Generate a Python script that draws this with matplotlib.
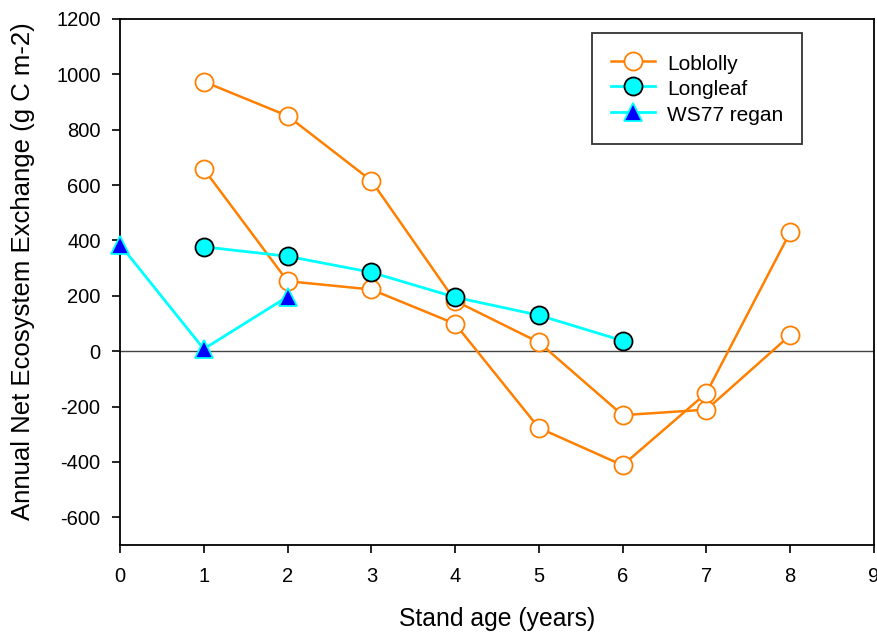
import matplotlib
matplotlib.use("Agg")
import matplotlib.pyplot as plt

plt.rcParams["font.family"] = ["Liberation Sans", "DejaVu Sans"]
plt.rcParams["axes.unicode_minus"] = False

# stand age (years)
age_lob = [1, 2, 3, 4, 5, 6, 7, 8]
lob_a = [974, 850, 616, 182, 32, -231, -211, 58]
lob_b = [658, 253, 223, 99, -277, -412, -151, 430]

age_long = [1, 2, 3, 4, 5, 6]
longleaf = [377, 343, 285, 195, 130, 38]

age_ws77 = [0, 1, 2]
ws77 = [385, 8, 197]

ORANGE = "#ff8000"
CYAN = "#00ffff"

fig = plt.figure(figsize=(8.78, 6.33), dpi=100)
ax = fig.add_axes([0.1367, 0.139, 0.8587, 0.831])

ax.axhline(0, color="#444444", linewidth=1.0, zorder=1)

ax.plot(age_lob, lob_a, "-o", color=ORANGE, lw=1.8, ms=13, mfc="white",
        mec=ORANGE, mew=1.3, label="Loblolly", zorder=2)
ax.plot(age_lob, lob_b, "-o", color=ORANGE, lw=1.8, ms=13, mfc="white",
        mec=ORANGE, mew=1.3, zorder=2)
ax.plot(age_long, longleaf, "-o", color=CYAN, lw=2, ms=13, mfc=CYAN,
        mec="black", mew=1.3, label="Longleaf", zorder=3)
ax.plot(age_ws77, ws77, "-^", color=CYAN, lw=2, ms=13, mfc="#0000ff",
        mec=CYAN, mew=1.3, label="WS77 regan", zorder=3, clip_on=False)

ax.set_xlim(0, 9)
ax.set_ylim(-700, 1200)
ax.set_xticks(range(0, 10))
ax.set_yticks(range(-600, 1201, 200))
ax.tick_params(direction="out", length=6, width=1.2, labelsize=14.5, pad=8)
ax.tick_params(axis="x", pad=10)
for s in ax.spines.values():
    s.set_linewidth(1.3)

ax.set_xlabel("Stand age (years)", fontsize=17.8, labelpad=15)
ax.set_ylabel("Annual Net Ecosystem Exchange (g C m-2)", fontsize=18.5)
ax.yaxis.set_label_coords(-0.113, 0.52)

leg = ax.legend(loc="upper left", bbox_to_anchor=(0.626, 0.973), fontsize=15,
                frameon=True, fancybox=False, edgecolor="black",
                borderaxespad=0, handlelength=2.1, handletextpad=0.58,
                handleheight=1.2, borderpad=0.92, labelspacing=0.17)
leg.get_frame().set_linewidth(1.3)

fig.savefig("out.png", dpi=100)
